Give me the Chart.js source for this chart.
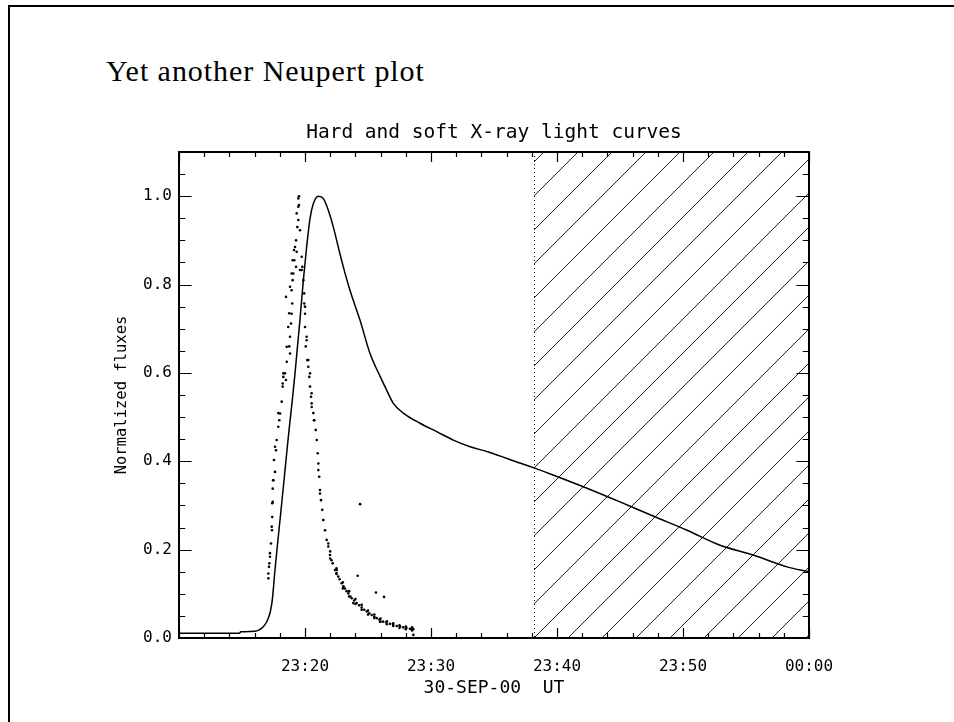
<!DOCTYPE html>
<html>
<head>
<meta charset="utf-8">
<script src="https://cdn.jsdelivr.net/npm/chart.js@4.4.1/dist/chart.umd.min.js"></script>
<style>
  html, body { margin: 0; padding: 0; width: 954px; height: 722px; overflow: hidden; background: #fff; }
  #frame { position: absolute; left: 8px; top: 5px; width: 2000px; height: 2000px; border: 2px solid #000; }
  #slideTitle { position: absolute; left: 106px; top: 56px; font-family: "Liberation Serif", "Times New Roman", serif;
    font-size: 30px; line-height: 30px; letter-spacing: 0.95px; color: #000; white-space: nowrap; }
  #wrap { position: absolute; left: 100px; top: 100px; width: 788px; height: 622px; }
</style>
</head>
<body>
<div id="frame"></div>
<div id="slideTitle">Yet another Neupert plot</div>
<div id="wrap"><canvas id="myChart"></canvas></div>
<script>
const ctx = document.getElementById('myChart').getContext('2d');

// time in minutes after 23:00 UT (60 = 00:00)
const xMin = 10;
const xMax = 60;
const xTickValues = [20, 30, 40, 50, 60];
const yTickValues = [0, 0.2, 0.4, 0.6, 0.8, 1.0];
const hatchStart = 38.17; // start of the hatched (no data) interval

// soft X-ray (solid line)
const sxrTime = [10.0, 14.8, 14.9, 16.0, 16.4, 16.8, 17.1, 17.25, 17.4, 17.62, 17.9, 18.17, 18.45, 18.73,
  19.0, 19.21, 19.6, 19.87, 20.13, 20.4, 20.66, 21.06, 21.45, 21.85, 22.25, 22.64, 23.04, 23.57,
  24.37, 25.16, 26.0, 26.48, 27.01, 27.8, 29.13, 30.45, 31.77, 33.1, 34.55, 37.06, 38.17, 39.68,
  42.38, 45.0, 47.62, 50.32, 52.94, 55.56, 58.25, 60.0];
const sxrFlux = [0.011, 0.011, 0.014, 0.015, 0.019, 0.029, 0.046, 0.060, 0.085, 0.155, 0.235, 0.31, 0.39, 0.47,
  0.54, 0.60, 0.72, 0.81, 0.885, 0.95, 0.983, 1.0, 0.995, 0.968, 0.93, 0.885, 0.84, 0.787,
  0.719, 0.644, 0.59, 0.561, 0.531, 0.509, 0.486, 0.467, 0.448, 0.433, 0.421, 0.396, 0.385, 0.369,
  0.339, 0.308, 0.276, 0.244, 0.21, 0.188, 0.161, 0.15];

// hard X-ray (dots)
const hxrTime = [
  17.09, 17.09, 17.17, 17.22, 17.30, 17.38, 17.40, 17.44, 17.44, 17.48, 17.62, 17.54, 17.70, 17.75,
  17.96, 17.88, 18.15, 18.23, 18.49, 18.28, 18.41, 18.55, 18.81, 18.75, 18.81, 18.89, 18.94, 18.99,
  18.49, 18.94, 19.02, 19.07, 19.29, 19.15, 19.34, 19.21, 19.60, 19.47, 19.34, 19.52, 19.47, 19.52,
  19.74, 19.79, 19.74, 19.94, 19.94, 20.00, 20.00, 20.13, 20.06, 20.18, 20.26, 20.34, 20.40, 20.48,
  20.53, 20.53, 20.66, 20.74, 20.85, 20.93, 21.01, 21.06, 21.13, 21.19, 21.27, 21.37, 21.45, 21.59,
  21.72, 21.85, 21.98, 22.20, 22.38, 22.64, 22.91, 23.17, 23.44, 23.71, 24.10, 24.50, 24.90, 25.29,
  25.69, 26.21, 26.75, 27.28, 27.80, 28.33, 28.60,
  24.37, 24.18, 25.63, 26.27, 28.60,
  19.47, 19.39, 19.29, 19.13, 19.02, 19.60, 19.87, 18.94, 18.81, 20.00, 18.75, 18.67, 20.13, 18.55,
  20.26, 18.28, 18.23, 20.40, 20.53, 18.02, 20.71, 17.88, 17.62, 17.48, 17.40, 17.36, 17.22, 17.14,
  21.06, 21.19, 21.45, 21.85, 22.51, 23.04, 23.83, 25.95,
  22.1, 22.5, 22.75, 23.05, 23.3, 23.6, 23.9, 24.3, 24.7, 25.1, 25.5, 25.9, 26.45, 27.0, 27.55, 28.05, 28.45,
  22.0, 22.5, 23.0, 23.5, 24.0, 24.5, 25.0, 25.5, 26.0, 26.5, 27.0, 27.5, 28.0, 28.5,
  22.0, 22.5, 23.0, 23.5, 24.0, 24.5, 25.0, 25.5, 26.0, 26.5, 27.0, 27.5, 28.0, 28.5];
const hxrFlux = [
  0.135, 0.146, 0.169, 0.184, 0.214, 0.244, 0.274, 0.308, 0.338, 0.357, 0.376, 0.403, 0.425, 0.448,
  0.493, 0.509, 0.535, 0.569, 0.584, 0.591, 0.599, 0.625, 0.644, 0.660, 0.682, 0.712, 0.734, 0.757,
  0.772, 0.787, 0.810, 0.825, 0.840, 0.855, 0.874, 0.885, 0.923, 0.946, 0.961, 0.980, 0.995, 1.000,
  0.863, 0.840, 0.833, 0.780, 0.757, 0.734, 0.704, 0.682, 0.660, 0.629, 0.614, 0.591, 0.569, 0.546,
  0.523, 0.531, 0.509, 0.493, 0.471, 0.448, 0.418, 0.395, 0.365, 0.335, 0.312, 0.290, 0.267, 0.244,
  0.222, 0.207, 0.188, 0.169, 0.154, 0.139, 0.124, 0.112, 0.101, 0.090, 0.079, 0.069, 0.060, 0.052,
  0.045, 0.037, 0.032, 0.027, 0.024, 0.021, 0.020,
  0.303, 0.141, 0.103, 0.093, 0.007,
  0.976, 0.930, 0.900, 0.878, 0.855, 0.833, 0.810, 0.825, 0.795, 0.750, 0.735, 0.704, 0.674, 0.659,
  0.629, 0.599, 0.576, 0.599, 0.554, 0.508, 0.493, 0.478, 0.433, 0.357, 0.305, 0.252, 0.192, 0.161,
  0.380, 0.327, 0.267, 0.214, 0.154, 0.116, 0.079, 0.037,
  0.176, 0.147, 0.133, 0.117, 0.106, 0.094, 0.085, 0.074, 0.064, 0.056, 0.048, 0.042, 0.035, 0.030, 0.026, 0.023, 0.021,
  0.196, 0.158, 0.126, 0.106, 0.088, 0.075, 0.062, 0.053, 0.044, 0.038, 0.033, 0.029, 0.026, 0.024,
  0.180, 0.145, 0.112, 0.094, 0.077, 0.064, 0.053, 0.045, 0.037, 0.031, 0.027, 0.023, 0.020, 0.017];

const monoFont = '"DejaVu Sans Mono", monospace';

function timeLabel(v) {
  const h = (23 + Math.floor(v / 60)) % 24;
  const m = Math.round(v % 60);
  return String(h).padStart(2, '0') + ':' + String(m).padStart(2, '0');
}

// centre the plot title over the plot box instead of the whole canvas
const titleOverPlot = {
  id: 'titleOverPlot',
  afterLayout(chart) {
    const tb = chart.titleBlock;
    if (!tb) return;
    tb.left = chart.chartArea.left;
    tb.right = chart.chartArea.right;
    tb.width = tb.right - tb.left;
  }
};

// hatched region + dotted line at its start
const hatchPlugin = {
  id: 'hatch',
  beforeDatasetsDraw(chart) {
    const {ctx, chartArea: a, scales: {x}} = chart;
    const x0 = x.getPixelForValue(hatchStart);
    ctx.save();
    ctx.beginPath();
    ctx.rect(x0, a.top, a.right - x0, a.bottom - a.top);
    ctx.clip();
    ctx.strokeStyle = '#000';
    ctx.lineWidth = 0.9;
    ctx.beginPath();
    const step = 34;
    let c = x0 + a.bottom;
    while (c > x0 + a.top) c -= step;
    for (; c < a.right + a.bottom + step; c += step) {
      ctx.moveTo(c - a.bottom, a.bottom);
      ctx.lineTo(c - a.top, a.top);
    }
    ctx.stroke();
    ctx.restore();

    ctx.save();
    ctx.strokeStyle = '#000';
    ctx.lineWidth = 1;
    ctx.setLineDash([1, 3]);
    ctx.beginPath();
    ctx.moveTo(Math.round(x0) + 0.5, a.top);
    ctx.lineTo(Math.round(x0) + 0.5, a.bottom);
    ctx.stroke();
    ctx.restore();
  }
};

// box frame with inward major/minor ticks on all four sides
const frameTicks = {
  id: 'frameTicks',
  afterDatasetsDraw(chart) {
    const {ctx, chartArea: a, scales: {x, y}} = chart;
    ctx.save();
    ctx.strokeStyle = '#000';
    ctx.lineWidth = 1.2;
    ctx.beginPath();
    for (let t = xMin; t <= xMax + 1e-6; t += 2) {
      const px = Math.round(x.getPixelForValue(t)) + 0.5;
      const len = t % 10 === 0 ? 10 : 5;
      ctx.moveTo(px, a.bottom); ctx.lineTo(px, a.bottom - len);
      ctx.moveTo(px, a.top); ctx.lineTo(px, a.top + len);
    }
    for (let i = 0; i <= 22; i++) {
      const py = Math.round(y.getPixelForValue(i * 0.05)) + 0.5;
      const len = i % 4 === 0 ? 12.6 : 6.3;
      ctx.moveTo(a.left, py); ctx.lineTo(a.left + len, py);
      ctx.moveTo(a.right, py); ctx.lineTo(a.right - len, py);
    }
    ctx.stroke();
    ctx.lineWidth = 2;
    ctx.strokeRect(a.left, a.top, a.right - a.left, a.bottom - a.top);
    ctx.restore();
  }
};

const myChart = new Chart(ctx, {
  type: 'scatter',
  data: {
    datasets: [{
      label: 'Soft X-ray',
      data: sxrTime.map((t, i) => ({x: t, y: sxrFlux[i]})),
      showLine: true,
      borderColor: '#000',
      borderWidth: 1.5,
      pointRadius: 0,
      cubicInterpolationMode: 'monotone',
      order: 2
    }, {
      label: 'Hard X-ray',
      data: hxrTime.map((t, i) => ({x: t, y: hxrFlux[i]})),
      showLine: false,
      pointRadius: 1.3,
      pointBackgroundColor: '#000',
      pointBorderWidth: 0,
      order: 1
    }]
  },
  options: {
    responsive: true,
    maintainAspectRatio: false,
    devicePixelRatio: 1,
    animation: false,
    layout: { padding: { left: 0, right: 79, top: 0, bottom: 0 } },
    plugins: {
      legend: { display: false },
      tooltip: { enabled: false },
      title: {
        display: true,
        text: 'Hard and soft X-ray light curves',
        color: '#000',
        font: { family: monoFont, size: 19.5, weight: 'normal' },
        padding: { top: 21, bottom: 7.6 }
      }
    },
    scales: {
      x: {
        type: 'linear',
        min: xMin,
        max: xMax,
        afterBuildTicks: (s) => { s.ticks = xTickValues.map(v => ({value: v})); },
        afterFit: (s) => { s.height = 84; },
        grid: { display: false, drawTicks: false },
        border: { display: false },
        ticks: {
          color: '#000',
          padding: 19,
          maxRotation: 0,
          font: { family: monoFont, size: 16 },
          callback: (v) => timeLabel(v)
        },
        title: {
          display: true,
          text: '30-SEP-00  UT',
          color: '#000',
          font: { family: monoFont, size: 18 },
          padding: { top: 0, bottom: 22.7 }
        }
      },
      y: {
        min: 0,
        max: 1.1,
        afterBuildTicks: (s) => { s.ticks = yTickValues.map(v => ({value: v})); },
        afterFit: (s) => { s.width = 79; },
        grid: { display: false, drawTicks: false },
        border: { display: false },
        ticks: {
          color: '#000',
          padding: 7,
          font: { family: monoFont, size: 16 },
          callback: (v) => v.toFixed(1)
        },
        title: {
          display: true,
          text: 'Normalized fluxes',
          color: '#000',
          font: { family: monoFont, size: 15.5 },
          padding: { top: 13, bottom: 0 }
        }
      }
    }
  },
  plugins: [titleOverPlot, hatchPlugin, frameTicks]
});
</script>
</body>
</html>
